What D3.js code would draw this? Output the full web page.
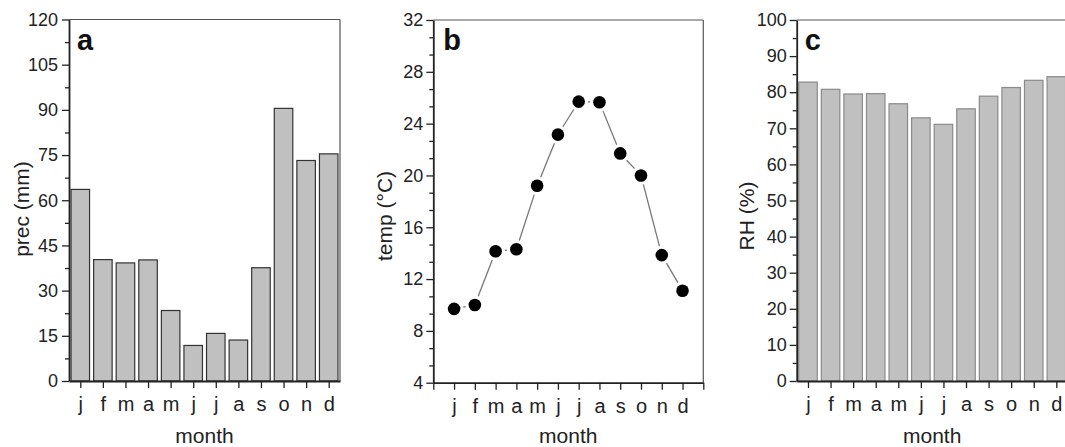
<!DOCTYPE html>
<html>
<head>
<meta charset="utf-8">
<script src="https://cdn.jsdelivr.net/npm/d3@7"></script>
<style>
  body { margin: 0; background: #fff; }
  svg { display: block; font-family: "Liberation Sans", Arial, sans-serif; }
</style>
</head>
<body>
<div id="chart"></div>
<script>
const months = ["j", "f", "m", "a", "m", "j", "j", "a", "s", "o", "n", "d"];
const precValues = [63.6, 40.3, 39.2, 40.2, 23.4, 11.8, 15.8, 13.6, 37.6, 90.5, 73.2, 75.4];
const tempValues = [9.7, 10.0, 14.15, 14.3, 19.2, 23.15, 25.7, 25.65, 21.7, 20.0, 13.85, 11.1];
const rhValues = [82.8, 80.8, 79.5, 79.6, 76.8, 72.9, 71.1, 75.4, 78.9, 81.3, 83.3, 84.3];

const precTicks = [0, 15, 30, 45, 60, 75, 90, 105, 120];
const tempTicks = [4, 8, 12, 16, 20, 24, 28, 32];
const rhTicks = [0, 10, 20, 30, 40, 50, 60, 70, 80, 90, 100];

const width = 1065, height = 447;

const svg = d3.select("#chart").append("svg")
    .attr("width", width)
    .attr("height", height);

function drawPanel(cfg) {
    const g = svg.append("g");

    const x = d3.scaleLinear().domain(cfg.xDomain).range([cfg.left, cfg.right]);
    const y = d3.scaleLinear().domain(cfg.yDomain).range([cfg.bottom, cfg.top]);

    // frame lines (top / right)
    g.append("line")
        .attr("x1", cfg.left).attr("x2", cfg.right)
        .attr("y1", cfg.top).attr("y2", cfg.top)
        .attr("stroke", "#555").attr("stroke-width", 1.2);
    g.append("line")
        .attr("x1", cfg.right).attr("x2", cfg.right)
        .attr("y1", cfg.top).attr("y2", cfg.bottom)
        .attr("stroke", "#555").attr("stroke-width", 1.2);

    if (cfg.type === "bar") {
        const step = x(2) - x(1);
        const bw = step * 0.82;
        g.selectAll(".bar")
            .data(cfg.values)
            .enter()
            .append("rect")
            .attr("x", (d, i) => x(i + 1) - bw / 2)
            .attr("y", d => y(d))
            .attr("width", bw)
            .attr("height", d => y(cfg.yDomain[0]) - y(d))
            .attr("fill", "#c0c0c0")
            .attr("stroke", cfg.barStroke)
            .attr("stroke-width", 1.2);
    } else {
        const r = 6.3, gap = 3;
        const pts = cfg.values.map((d, i) => [x(i + 1), y(d)]);
        for (let i = 0; i < pts.length - 1; i++) {
            const [x1, y1] = pts[i], [x2, y2] = pts[i + 1];
            const len = Math.hypot(x2 - x1, y2 - y1);
            const ux = (x2 - x1) / len, uy = (y2 - y1) / len;
            const cut = r + gap;
            if (len <= cut * 2) continue;
            g.append("line")
                .attr("x1", x1 + ux * cut).attr("y1", y1 + uy * cut)
                .attr("x2", x2 - ux * cut).attr("y2", y2 - uy * cut)
                .attr("stroke", "#777").attr("stroke-width", 1.3);
        }
        g.selectAll(".dot")
            .data(cfg.values)
            .enter()
            .append("circle")
            .attr("cx", (d, i) => x(i + 1))
            .attr("cy", d => y(d))
            .attr("r", r)
            .attr("fill", "#000");
    }

    // y axis: minor ticks then major
    g.append("g")
        .attr("transform", `translate(${cfg.left},0)`)
        .call(d3.axisLeft(y).tickValues(cfg.minorTicks).tickSize(4).tickSizeOuter(0).tickFormat(""))
        .call(a => a.select(".domain").remove())
        .call(a => a.selectAll("line").attr("stroke", "#222").attr("stroke-width", 1.3));

    const yAxis = g.append("g")
        .attr("transform", `translate(${cfg.left},0)`)
        .call(d3.axisLeft(y).tickValues(cfg.yTicks).tickSize(7).tickSizeOuter(0).tickPadding(cfg.tickPad));
    yAxis.select(".domain").attr("stroke", "#222").attr("stroke-width", 1.8);
    yAxis.selectAll("line").attr("stroke", "#222").attr("stroke-width", 1.3);
    yAxis.selectAll("text")
        .attr("font-size", "18px")
        .attr("fill", "#222")
        .attr("font-family", "Liberation Sans, Arial, sans-serif");

    // x axis
    const xAxis = g.append("g")
        .attr("transform", `translate(0,${cfg.bottom})`)
        .call(d3.axisBottom(x).tickValues(cfg.xTickValues).tickSize(7).tickSizeOuter(0)
            .tickFormat(d => (d >= 1 && d <= 12) ? months[d - 1] : "")
            .tickPadding(9));
    xAxis.select(".domain").attr("stroke", "#222").attr("stroke-width", 1.8);
    xAxis.selectAll("line").attr("stroke", "#222").attr("stroke-width", 1.3);
    xAxis.selectAll("text")
        .attr("font-size", "20px")
        .attr("fill", "#222")
        .attr("font-family", "Liberation Sans, Arial, sans-serif");

    // axis titles
    g.append("text")
        .attr("x", (cfg.left + Math.min(cfg.right, width + 3)) / 2)
        .attr("y", 443)
        .attr("text-anchor", "middle")
        .attr("font-size", "21px")
        .attr("fill", "#222")
        .text("month");

    g.append("text")
        .attr("transform", `translate(${cfg.yTitleX},${cfg.yTitleY}) rotate(-90)`)
        .attr("text-anchor", "middle")
        .attr("font-size", "21px")
        .attr("fill", "#222")
        .text(cfg.yTitle);

    // panel letter
    g.append("text")
        .attr("x", cfg.left + cfg.letterDx)
        .attr("y", 50)
        .attr("font-size", "29px")
        .attr("font-weight", "bold")
        .attr("fill", "#111")
        .text(cfg.letter);
}

drawPanel({
    type: "bar", values: precValues, barStroke: "#333",
    left: 69, right: 340, top: 19.5, bottom: 381,
    xDomain: [0.5, 12.5], yDomain: [0, 120],
    yTicks: precTicks, minorTicks: d3.range(7.5, 120, 15),
    xTickValues: d3.range(1, 13), tickPad: 4,
    yTitle: "prec (mm)", yTitleX: 29, yTitleY: 209,
    letter: "a", letterDx: 8
});

drawPanel({
    type: "line", values: tempValues,
    left: 433.3, right: 703.3, top: 20, bottom: 382.7,
    xDomain: [0, 13], yDomain: [4, 32],
    yTicks: tempTicks, minorTicks: d3.range(4, 32, 4).flatMap(v => [v + 4 / 3, v + 8 / 3]),
    xTickValues: d3.range(0, 14), tickPad: 3,
    yTitle: "temp (°C)", yTitleX: 392, yTitleY: 216,
    letter: "b", letterDx: 10
});

drawPanel({
    type: "bar", values: rhValues, barStroke: "#8a8a8a",
    left: 796.7, right: 1067.6, top: 20, bottom: 381,
    xDomain: [0.5, 12.5], yDomain: [0, 100],
    yTicks: rhTicks, minorTicks: d3.range(5, 100, 10),
    xTickValues: d3.range(1, 13), tickPad: 3,
    yTitle: "RH (%)", yTitleX: 754, yTitleY: 216,
    letter: "c", letterDx: 8
});
</script>
</body>
</html>
